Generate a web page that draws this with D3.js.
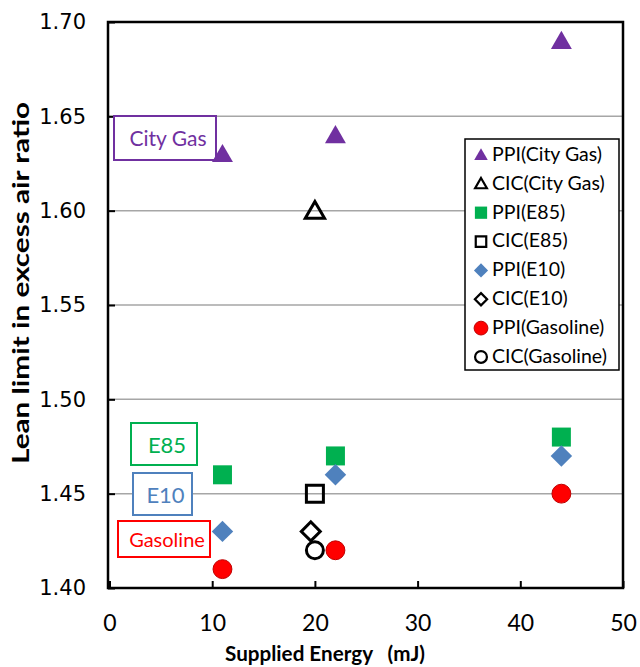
<!DOCTYPE html>
<html><head><meta charset="utf-8">
<script src="https://cdn.jsdelivr.net/npm/d3@7"></script>
<style>body{margin:0;background:#fff}svg{display:block}</style>
</head><body>
<svg id="c" width="640" height="667"></svg>
<script>
const xTicks = [0,10,20,30,40,50];
const yTicks = [1.40,1.45,1.50,1.55,1.60,1.65,1.70];
const ppiCityGas = [[11,1.63],[22,1.64],[44,1.69]];
const cicCityGas = [[20,1.60]];
const ppiE85 = [[11,1.46],[22,1.47],[44,1.48]];
const cicE85 = [[20,1.45]];
const ppiE10 = [[11,1.43],[22,1.46],[44,1.47]];
const cicE10 = [[19.6,1.43]];
const ppiGasoline = [[11,1.41],[22,1.42],[44,1.45]];
const cicGasoline = [[20,1.42]];
const legendLabels = ["PPI(City Gas)","CIC(City Gas)","PPI(E85)","CIC(E85)","PPI(E10)","CIC(E10)","PPI(Gasoline)","CIC(Gasoline)"];
const fuelLabels = ["City Gas","E85","E10","Gasoline"];

const svg = d3.select("#c");
const L=108,R=623,T=22,B=588;
const x = d3.scaleLinear().domain([0,50]).range([L+1.5,R]);
const y = d3.scaleLinear().domain([1.40,1.70]).range([B,T]);

// gridlines
svg.append("g").selectAll("line").data(yTicks.filter(v=>v>1.401&&v<1.699)).join("line")
  .attr("x1",L).attr("x2",R).attr("y1",d=>y(d)).attr("y2",d=>y(d))
  .attr("stroke","#a6a6a6").attr("stroke-width",1.5);

// axes
const xa = svg.append("g").attr("transform",`translate(0,${B})`)
  .call(d3.axisBottom(x).tickValues(xTicks).tickSizeInner(-7).tickSizeOuter(0).tickPadding(27).tickFormat(d3.format("d")));
const ya = svg.append("g").attr("transform",`translate(${L},0)`)
  .call(d3.axisLeft(y).tickValues(yTicks).tickSizeInner(-7).tickSizeOuter(0).tickPadding(22).tickFormat(d3.format(".2f")));
xa.select(".domain").remove(); ya.select(".domain").remove();
xa.selectAll(".tick line").attr("stroke","#000").attr("stroke-width",2);
ya.selectAll(".tick line").attr("stroke","#000").attr("stroke-width",2);
xa.selectAll("text").attr("font-family","Lato, sans-serif").attr("font-size",23).attr("fill","#000");
ya.selectAll("text").attr("font-family","DejaVu Sans, sans-serif").attr("font-size",21).attr("fill","#000");

// frame
svg.append("rect").attr("x",L).attr("y",T).attr("width",R-L).attr("height",B-T)
  .attr("fill","none").attr("stroke","#000").attr("stroke-width",2.5);

// axis titles
svg.append("text").attr("x",325).attr("y",661).attr("text-anchor","middle")
  .attr("font-family","Lato, sans-serif").attr("font-weight","bold").attr("font-size",20)
  .attr("xml:space","preserve").attr("textLength",200).attr("lengthAdjust","spacingAndGlyphs")
  .text("Supplied Energy   (mJ)");
svg.append("text").attr("transform","translate(29,283) rotate(-90)").attr("text-anchor","middle")
  .attr("font-family","Lato, sans-serif").attr("font-weight","bold").attr("font-size",22)
  .attr("textLength",362).attr("lengthAdjust","spacingAndGlyphs")
  .text("Lean limit in excess air ratio");

// fuel label boxes
const boxes = [
  {t:fuelLabels[0],x0:114,y0:116,x1:216,y1:160,c:"#7030a0",fs:21},
  {t:fuelLabels[1],x0:131,y0:423,x1:197,y1:465,c:"#00b050",fs:22},
  {t:fuelLabels[2],x0:133,y0:473,x1:192,y1:515,c:"#4f81bd",fs:22},
  {t:fuelLabels[3],x0:118,y0:521,x1:210,y1:557,c:"#ff0000",fs:20}
];
boxes.forEach(b=>{
  svg.append("rect").attr("x",b.x0).attr("y",b.y0).attr("width",b.x1-b.x0).attr("height",b.y1-b.y0)
    .attr("fill","#fff").attr("stroke",b.c).attr("stroke-width",2);
  svg.append("text").attr("x",(b.x0+b.x1)/2+3).attr("y",(b.y0+b.y1)/2+3).attr("text-anchor","middle")
    .attr("dominant-baseline","middle").attr("font-family","Lato, sans-serif").attr("font-size",b.fs)
    .attr("fill",b.c).text(b.t);
});

// marker styles
const styles = [
  {data:ppiCityGas, type:d3.symbolTriangle, size:190, lsize:80, fill:"#7030a0", stroke:"none", sw:0, rot:0},
  {data:cicCityGas, type:d3.symbolTriangle, size:160, lsize:60, fill:"none", stroke:"#000", sw:3, rot:0},
  {data:ppiE85, type:d3.symbolSquare, size:361, lsize:150, fill:"#00b050", stroke:"none", sw:0, rot:0},
  {data:cicE85, type:d3.symbolSquare, size:289, lsize:110, fill:"none", stroke:"#000", sw:3, rot:0},
  {data:ppiE10, type:d3.symbolSquare, size:230, lsize:100, fill:"#4f81bd", stroke:"none", sw:0, rot:45},
  {data:cicE10, type:d3.symbolSquare, size:180, lsize:75, fill:"none", stroke:"#000", sw:3, rot:45},
  {data:ppiGasoline, type:d3.symbolCircle, size:280, lsize:150, fill:"#ff0000", stroke:"#c00000", sw:1, rot:0},
  {data:cicGasoline, type:d3.symbolCircle, size:227, lsize:110, fill:"none", stroke:"#000", sw:3, rot:0}
];
styles.forEach(s=>{
  svg.append("g").selectAll("path").data(s.data).join("path")
    .attr("d", d3.symbol(s.type, s.size))
    .attr("transform", d=>`translate(${x(d[0])},${y(d[1]) + (s.type===d3.symbolTriangle?2:0)}) rotate(${s.rot})`)
    .attr("fill", s.fill).attr("stroke", s.stroke).attr("stroke-width", s.sw).attr("stroke-linejoin","miter");
});

// legend
const lg = svg.append("g");
lg.append("rect").attr("x",465).attr("y",139).attr("width",154).attr("height",231)
  .attr("fill","#fff").attr("stroke","#000").attr("stroke-width",1.5);
styles.forEach((s,i)=>{
  const cy = 155 + i*28.85;
  lg.append("path").attr("d", d3.symbol(s.type, s.lsize))
    .attr("transform", `translate(481,${cy + (s.type===d3.symbolTriangle?1:0)}) rotate(${s.rot})`)
    .attr("fill", s.fill).attr("stroke", s.stroke).attr("stroke-width", s.sw>1?2.2:s.sw);
  lg.append("text").attr("x",492).attr("y",cy+1).attr("dominant-baseline","middle")
    .attr("font-family","Lato, sans-serif").attr("font-size",19.5).attr("fill","#000").text(legendLabels[i]);
});
</script>
</body></html>
